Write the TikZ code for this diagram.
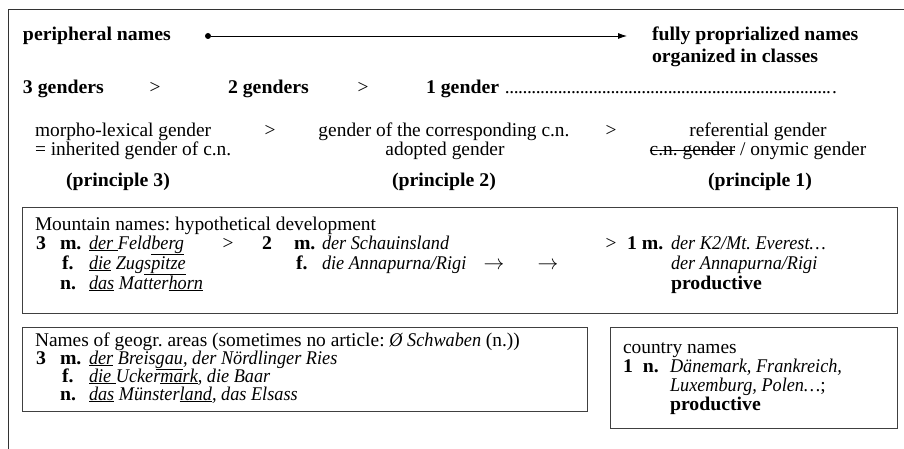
\documentclass[tikz,border=0pt]{standalone}
\usepackage{fontspec}
\setmainfont{Liberation Serif}[ItalicFeatures={FakeStretch=0.94},BoldFeatures={FakeStretch=1.02}]
\usetikzlibrary{arrows.meta}
% underline and strike-through without extra packages
\newcommand{\ulin}[1]{\underline{#1}}
\newcommand{\strk}[1]{\setbox0\hbox{#1}\rlap{\raisebox{0.28em}{\rule{\wd0}{0.7pt}}}\box0}
\frenchspacing
\begin{document}
\begin{tikzpicture}[x=1pt,y=-1pt,
  every node/.style={inner sep=0pt, outer sep=0pt, font=\fontsize{19.4}{20}\selectfont},
  txt/.style={anchor=base west},
  ctr/.style={anchor=base},
  frame/.style={draw=black!80, line width=0.9pt},
  boxline/.style={draw=black!75, line width=1pt}]
\useasboundingbox (0,0) rectangle (904,449);

% outer frame (top and left edge)
\draw[frame] (8,449) -- (8,9) -- (904,9);

% scale of proprialization
\node[txt] (periph) at (23,41) {\textbf{peripheral names}};
\node[circle, fill=black, minimum size=6pt] (dot) at (208,36) {};
\coordinate (tipend) at (627,36);
\draw[line width=0.8pt, -{Latex[length=9pt,width=6pt]}] (dot) -- (tipend);
\node[txt] (fully) at (652,41) {\textbf{fully proprialized names}};
\node[txt] (organ) at (652,63) {\textbf{organized in classes}};

% number of genders
\node[txt] (g3) at (23,94) {\textbf{3 genders}};
\node[ctr] (gt1) at (155,94) {>};
\node[txt] (g2) at (228,94) {\textbf{2 genders}};
\node[ctr] (gt2) at (363,94) {>};
\node[txt] (g1) at (426,94) {\makebox[411pt][l]{\textbf{1 gender}\ \leaders\hbox to 4.4pt{\hss.\hss}\hfill.}};

% gender principles
\node[txt] (morph) at (35,137) {morpho-lexical gender};
\node[txt] (inher) at (35,156) {= inherited gender of c.n.};
\node[ctr] (pt1) at (270,137) {>};
\node[ctr] (corr) at (444,137) {gender of the corresponding c.n.};
\node[ctr] (adopt) at (445,156) {adopted gender};
\node[ctr] (pt2) at (611,137) {>};
\node[ctr] (refer) at (758,137) {referential gender};
\node[ctr] (onym) at (758,156) {\strk{c.n.\ gender}\ / onymic gender};
\node[ctr] (pr3) at (118,186) {\textbf{(principle 3)}};
\node[ctr] (pr2) at (444,186) {\textbf{(principle 2)}};
\node[ctr] (pr1) at (760,186) {\textbf{(principle 1)}};

% mountain names
\draw[boxline] (22,207) rectangle (897,313);
\node[txt] (mtitle) at (35,230) {Mountain names: hypothetical development};
\node[txt] (m3) at (36,249) {\textbf{3}};
\node[txt] (mm) at (60,249) {\textbf{m.}};
\node[txt] (mfeld) at (89,249) {\textit{\ulin{der\ }Feld\ulin{berg}}};
\node[ctr] (mgt1) at (228,249) {>};
\node[txt] (m2) at (262,249) {\textbf{2}};
\node[txt] (mm2) at (294,249) {\textbf{m.}};
\node[txt] (mschau) at (322,249) {\textit{der Schauinsland}};
\node[ctr] (mgt2) at (611,249) {>};
\node[txt] (m1) at (627,249) {\textbf{1 m.}};
\node[txt] (mk2) at (671,249) {\textit{der K2/Mt.\ Everest…}};
\node[txt] (mf) at (62,269) {\textbf{f.}};
\node[txt] (mzug) at (89,269) {\textit{\ulin{die} Zug\ulin{spitze}}};
\node[txt] (mf2) at (296,269) {\textbf{f.}};
\node[txt] (mann) at (322,269) {\textit{die Annapurna/Rigi}};
\node[ctr] (marr1) at (494,269) {$\rightarrow$};
\node[ctr] (marr2) at (548,269) {$\rightarrow$};
\node[txt] (mann2) at (671,269) {\textit{der Annapurna/Rigi}};
\node[txt] (mn) at (60,289) {\textbf{n.}};
\node[txt] (mmatt) at (89,289) {\textit{\ulin{das} Matter\ulin{horn}}};
\node[txt] (mprod) at (671,289) {\textbf{productive}};

% names of geographical areas
\draw[boxline] (22,327) rectangle (587,411);
\node[txt] (atitle) at (35,346) {Names of geogr. areas (sometimes no article: \textit{Ø Schwaben} (n.))};
\node[txt] (a3) at (36,364) {\textbf{3}};
\node[txt] (am) at (60,364) {\textbf{m.}};
\node[txt] (abreis) at (89,364) {\textit{\ulin{der} Breis\ulin{gau}, der Nördlinger Ries}};
\node[txt] (af) at (62,382) {\textbf{f.}};
\node[txt] (aucker) at (89,382) {\textit{\ulin{die\ }Ucker\ulin{mark}, die Baar}};
\node[txt] (an) at (60,400) {\textbf{n.}};
\node[txt] (amuen) at (89,400) {\textit{\ulin{das} Münster\ulin{land}, das Elsass}};

% country names
\draw[boxline] (610,327) rectangle (897,428);
\node[txt] (ctitle) at (623,353) {country names};
\node[txt] (c1) at (623,372) {\textbf{1\ \ n.}};
\node[txt] (cdaen) at (670,372) {\textit{Dänemark, Frankreich,}};
\node[txt] (clux) at (670,391) {\textit{Luxemburg, Polen…};};
\node[txt] (cprod) at (670,410) {\textbf{productive}};
\end{tikzpicture}
\end{document}
